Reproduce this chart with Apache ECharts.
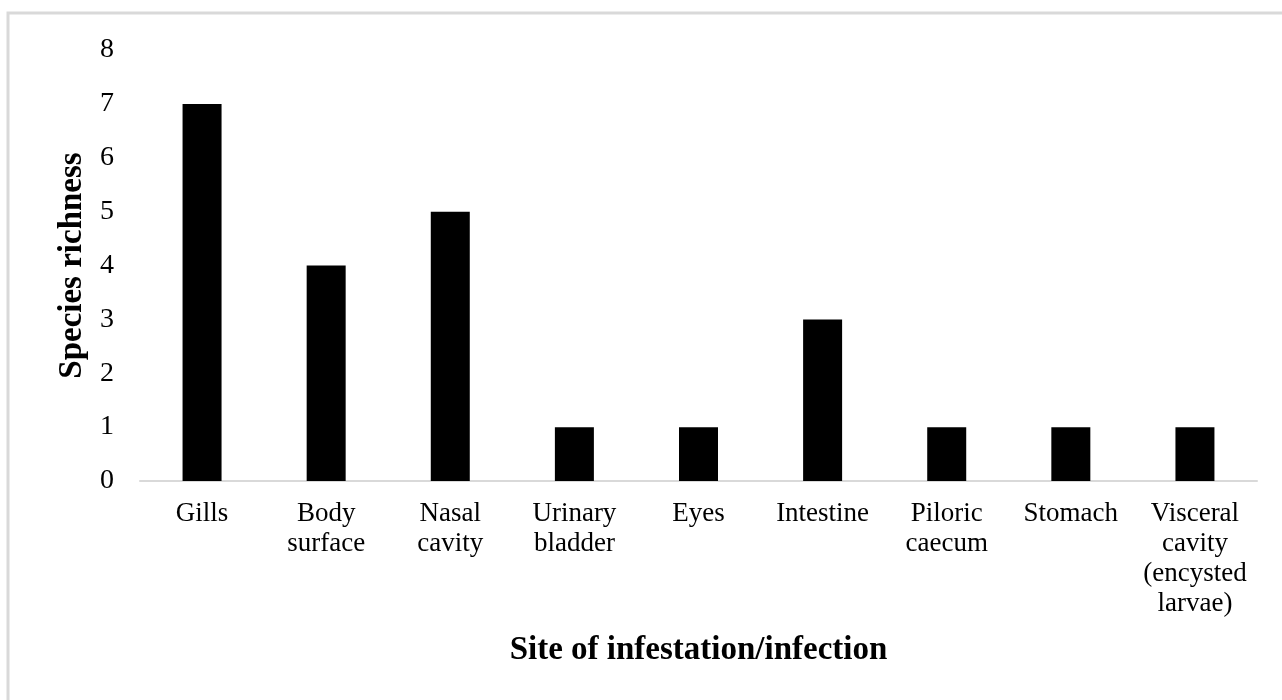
<!DOCTYPE html>
<html>
<head>
<meta charset="utf-8">
<script src="https://cdn.jsdelivr.net/npm/echarts@6/dist/echarts.min.js"></script>
<style>
  html, body { margin: 0; padding: 0; background: #fff; }
  #chart { width: 1282px; height: 700px; }
</style>
</head>
<body>
<div id="chart"></div>
<script>
// site of infestation / infection
const categories = [
  "Gills",
  "Body\nsurface",
  "Nasal\ncavity",
  "Urinary\nbladder",
  "Eyes",
  "Intestine",
  "Piloric\ncaecum",
  "Stomach",
  "Visceral\ncavity\n(encysted\nlarvae)",
];
const richness = [7, 4, 5, 1, 1, 3, 1, 1, 1];
const yTicks = [0, 1, 2, 3, 4, 5, 6, 7, 8];

const font = "'Liberation Serif', 'Times New Roman', serif";

const chart = echarts.init(document.getElementById("chart"));

chart.setOption({
  backgroundColor: "#fff",
  animation: false,
  graphic: [
    {
      type: "rect",
      shape: { x: 8, y: 13, width: 1300, height: 720 },
      style: { fill: "none", stroke: "#d9d9d9", lineWidth: 3 },
      silent: true,
    },
  ],
  grid: {
    left: 140,
    right: 25,
    top: 50,
    bottom: 219,
  },
  xAxis: {
    type: "category",
    data: categories,
    name: "Site of infestation/infection",
    nameLocation: "middle",
    nameGap: 153,
    nameTextStyle: {
      fontFamily: font,
      fontWeight: "bold",
      fontSize: 33,
      color: "#000",
    },
    axisLine: { lineStyle: { color: "#d9d9d9", width: 2 } },
    axisTick: { show: false },
    axisLabel: {
      interval: 0,
      margin: 18,
      fontFamily: font,
      fontSize: 27,
      lineHeight: 30,
      color: "#000",
    },
  },
  yAxis: {
    type: "value",
    min: yTicks[0],
    max: yTicks[yTicks.length - 1],
    interval: 1,
    name: "Species richness",
    nameLocation: "middle",
    nameGap: 47,
    nameTextStyle: {
      fontFamily: font,
      fontWeight: "bold",
      fontSize: 33,
      color: "#000",
    },
    axisLine: { show: false },
    axisTick: { show: false },
    splitLine: { show: false },
    axisLabel: {
      margin: 26,
      fontFamily: font,
      fontSize: 28,
      color: "#000",
    },
  },
  series: [
    {
      type: "bar",
      data: richness,
      barWidth: 39,
      itemStyle: { color: "#000" },
    },
  ],
});
</script>
</body>
</html>
